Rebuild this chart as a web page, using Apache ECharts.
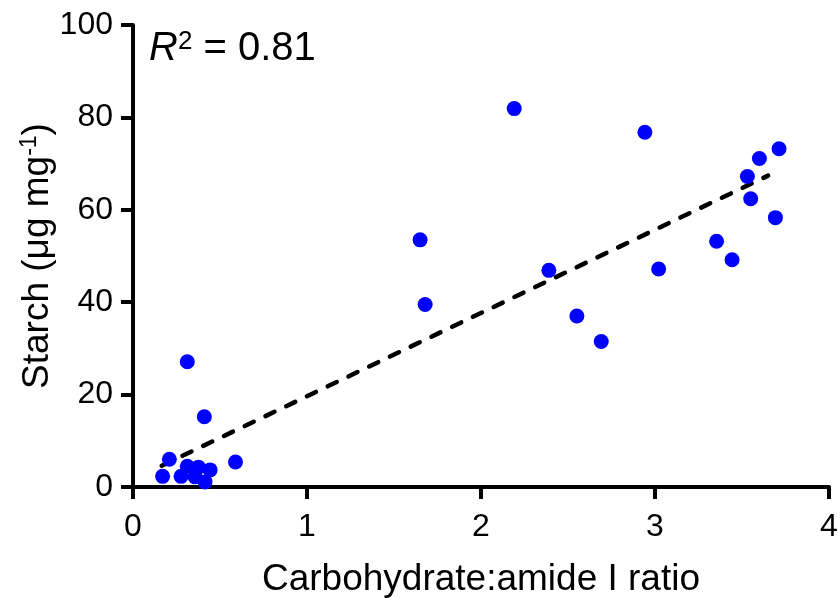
<!DOCTYPE html>
<html>
<head>
<meta charset="utf-8">
<script src="https://cdn.jsdelivr.net/npm/echarts@6/dist/echarts.min.js"></script>
<style>html,body{margin:0;padding:0;background:#fff;}#c{width:840px;height:598px;}</style>
</head>
<body>
<div id="c"></div>
<script>
var ratioX = [2.191, 2.942, 3.713, 3.600, 3.531, 3.550, 3.692, 1.650, 3.354, 3.443, 2.390, 3.021, 1.679, 2.551, 2.691, 0.312, 0.410, 0.209, 0.170, 0.589, 0.276, 0.312, 0.376, 0.443, 0.357, 0.414];
var starchY = [81.9, 76.8, 73.2, 71.1, 67.2, 62.4, 58.3, 53.5, 53.2, 49.2, 46.9, 47.2, 39.5, 37.0, 31.5, 27.1, 15.2, 6.0, 2.3, 5.4, 2.3, 4.5, 4.3, 3.7, 2.2, 1.1];
var fitX = [0.165, 3.65];
var fitY = [4.6, 67.4];
var xTicks = [0, 1, 2, 3, 4];
var yTicks = [0, 20, 40, 60, 80, 100];
var r2Text = '0.81';

var FONT = 'Liberation Sans, Arial, sans-serif';
var pts = ratioX.map(function (x, i) { return [x, starchY[i]]; });
var fit = fitX.map(function (x, i) { return [x, fitY[i]]; });

var chart = echarts.init(document.getElementById('c'), null, {renderer: 'canvas'});
chart.setOption({
  backgroundColor: '#ffffff',
  animation: false,
  title: {
    left: 144, top: 24,
    text: '{i|R}{s|2}{n| = ' + r2Text + '}',
    textStyle: {
      fontWeight: 'normal',
      rich: {
        i: {fontFamily: FONT, fontSize: 40, fontStyle: 'italic', fontWeight: 'normal', color: '#000'},
        s: {fontFamily: FONT, fontSize: 26, fontWeight: 'normal', color: '#000', verticalAlign: 'top', padding: [0, 0, 14, 0]},
        n: {fontFamily: FONT, fontSize: 40, fontWeight: 'normal', color: '#000'}
      }
    }
  },
  grid: {left: 133, right: 11, top: 25, bottom: 111, containLabel: false, outerBoundsMode: 'none'},
  xAxis: {
    type: 'value', min: xTicks[0], max: xTicks[xTicks.length - 1], interval: 1,
    name: 'Carbohydrate:amide I ratio', nameLocation: 'middle', nameGap: 74, nameMoveOverlap: false,
    nameTextStyle: {fontFamily: FONT, fontSize: 37, color: '#000'},
    axisLine: {show: true, onZero: false, lineStyle: {color: '#000', width: 4}},
    axisTick: {show: true, inside: false, length: 12, lineStyle: {color: '#000', width: 4}},
    axisLabel: {fontFamily: FONT, fontSize: 32, color: '#000', margin: 24},
    splitLine: {show: false}
  },
  yAxis: {
    type: 'value', min: yTicks[0], max: yTicks[yTicks.length - 1], interval: 20,
    name: '{t|Starch (μg mg}{s|-1}{t|)}', nameLocation: 'middle', nameGap: 76, nameRotate: 90, nameMoveOverlap: false,
    nameTextStyle: {
      rich: {
        t: {fontFamily: FONT, fontSize: 37, color: '#000'},
        s: {fontFamily: FONT, fontSize: 23, color: '#000', verticalAlign: 'top', padding: [0, 0, 16, 0]}
      }
    },
    axisLine: {show: true, onZero: false, lineStyle: {color: '#000', width: 4}},
    axisTick: {show: true, inside: false, length: 12, lineStyle: {color: '#000', width: 4}},
    axisLabel: {fontFamily: FONT, fontSize: 32, color: '#000', margin: 20},
    splitLine: {show: false}
  },
  series: [
    {
      type: 'line', data: fit, symbol: 'none', silent: true, z: 3,
      lineStyle: {color: '#000', width: 4.5, type: [10, 13], cap: 'round'}
    },
    {
      type: 'scatter', data: pts, symbol: 'circle', symbolSize: 15, z: 4,
      itemStyle: {color: '#0000ff', opacity: 1}
    }
  ]
});
</script>
</body>
</html>
